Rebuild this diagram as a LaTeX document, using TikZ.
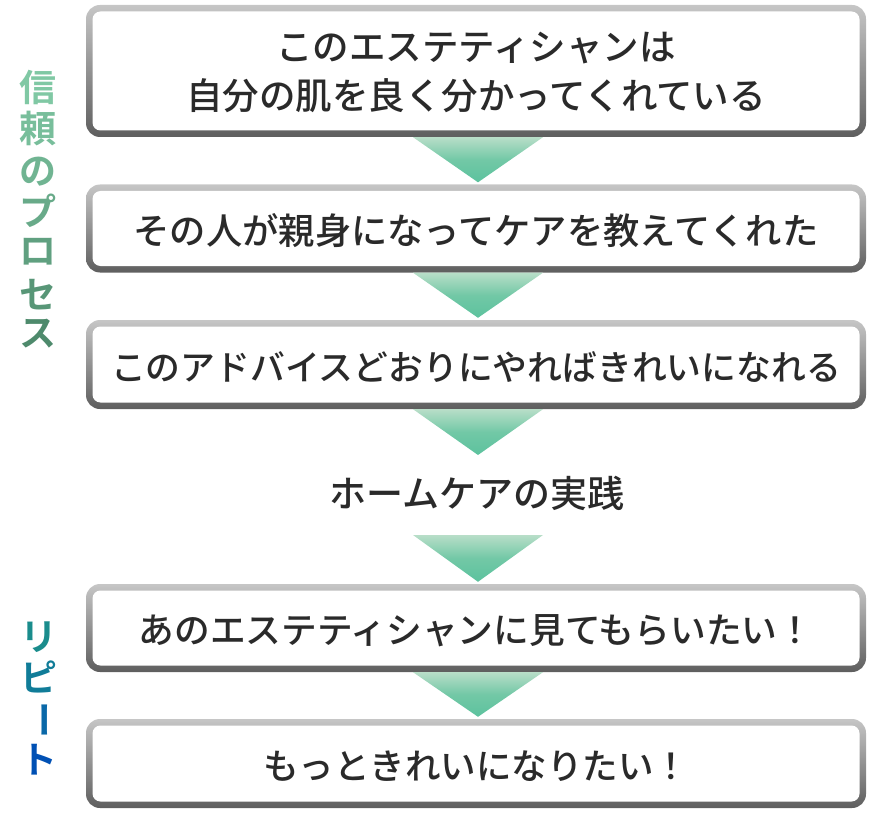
\documentclass[tikz,border=0pt]{standalone}
\usepackage{fontspec}
\setmainfont{Noto Sans CJK JP Medium}
\newfontfamily\jpbold{Noto Sans CJK JP Bold}
\usetikzlibrary{calc}
\definecolor{frametop}{HTML}{C6C6C6}
\definecolor{framebot}{HTML}{5E5E5E}
\definecolor{tritop}{HTML}{B8DEC8}
\definecolor{trimid}{HTML}{72C8A6}
\definecolor{tribot}{HTML}{5CC29E}
\definecolor{txt}{HTML}{2A2A2A}
\tikzset{
  boxouter/.style={shape=rectangle, rounded corners=14pt, inner sep=0pt,
    top color=frametop, bottom color=framebot, draw=none},
  boxinner/.style={shape=rectangle, rounded corners=8pt, inner sep=0pt,
    fill=white, text=txt, font=\fontsize{36}{49}\selectfont, align=center},
  boxtext/.style={text=txt, inner sep=0pt, align=center},
  tri/.style={top color=tritop, bottom color=tribot, middle color=trimid, draw=none},
  sidechar/.style={font=\jpbold\fontsize{37}{37}\selectfont, inner sep=0pt},
}
\begin{document}
\begin{tikzpicture}[x=1pt,y=-1pt]
\useasboundingbox (0,0) rectangle (875,829);
% boxes
\node[boxouter, minimum width=780pt, minimum height=132pt] (b1) at (476,71) {};
\node[boxinner, minimum width=767pt, minimum height=119pt] (i1) at (b1) {};
\node[boxtext, font=\fontsize{36.5}{49}\selectfont, yshift=-1pt] (t1) at (i1) {このエステティシャンは\\自分の肌を良く分かってくれている};
\node[boxouter, minimum width=780pt, minimum height=88pt] (b2) at (476,228.5) {};
\node[boxinner, minimum width=767pt, minimum height=75pt] (i2) at (b2) {};
\node[boxtext, font=\fontsize{36.3}{36}\selectfont, yshift=-2.5pt] (t2) at (i2) {その人が親身になってケアを教えてくれた};
\node[boxouter, minimum width=780pt, minimum height=89pt] (b3) at (476,364.5) {};
\node[boxinner, minimum width=767pt, minimum height=76pt] (i3) at (b3) {};
\node[boxtext, font=\fontsize{34.8}{36}\selectfont, yshift=-2.5pt] (t3) at (i3) {このアドバイスどおりにやればきれいになれる};
\node[text=txt, font=\fontsize{37}{37}\selectfont, inner sep=0pt] (hc) at (477,493) {ホームケアの実践};
\node[boxouter, minimum width=780pt, minimum height=88pt] (b4) at (476,628) {};
\node[boxinner, minimum width=767pt, minimum height=75pt] (i4) at (b4) {};
\node[boxtext, font=\fontsize{35.7}{36}\selectfont, yshift=-2.5pt] (t4) at (i4) {あのエステティシャンに見てもらいたい！};
\node[boxouter, minimum width=780pt, minimum height=89pt] (b5) at (476,763.5) {};
\node[boxinner, minimum width=767pt, minimum height=76pt] (i5) at (b5) {};
\node[boxtext, font=\fontsize{35.5}{36}\selectfont, yshift=-2.5pt] (t5) at (i5) {もっときれいになりたい！};
% arrows (triangles)
\coordinate (a3) at (478,455);
\coordinate (a4) at (478,535);
\shade[tri] ($(b1.south)+(-63,0)$) -- ($(b1.south)+(67,0)$) -- ($(b2.north)+(2,-2)$) -- cycle;
\shade[tri] ($(b2.south)+(-63,0)$) -- ($(b2.south)+(67,0)$) -- ($(b3.north)+(2,-2)$) -- cycle;
\shade[tri] ($(b3.south)+(-63,0)$) -- ($(b3.south)+(67,0)$) -- (a3) -- cycle;
\shade[tri] ($(a4)+(-65,0)$) -- ($(a4)+(65,0)$) -- ($(b4.north)+(2,-2)$) -- cycle;
\shade[tri] ($(b4.south)+(-63,0)$) -- ($(b4.south)+(67,0)$) -- ($(b5.north)+(2,-2)$) -- cycle;
% side labels
\node[sidechar, text={rgb,255:red,128;green,200;blue,164}] (s1) at (38,87) {信};
\node[sidechar, text={rgb,255:red,120;green,190;blue,155}] (s2) at (38,129) {頼};
\node[sidechar, text={rgb,255:red,112;green,180;blue,146}] (s3) at (38,172) {の};
\node[sidechar, text={rgb,255:red,104;green,170;blue,137}] (s4) at (38,211) {プ};
\node[sidechar, text={rgb,255:red,96;green,160;blue,128}] (s5) at (38,252) {ロ};
\node[sidechar, text={rgb,255:red,88;green,150;blue,119}] (s6) at (38,295) {セ};
\node[sidechar, text={rgb,255:red,78;green,138;blue,108}] (s7) at (38,334) {ス};
\node[sidechar, text={rgb,255:red,26;green,140;blue,140}] (r1) at (39,637) {リ};
\node[sidechar, text={rgb,255:red,16;green,124;blue,152}] (r2) at (39,677) {ピ};
\node[sidechar, text={rgb,255:red,10;green,104;blue,168}, rotate=-90] (r3) at (39,720) {ー};
\node[sidechar, text={rgb,255:red,0;green,80;blue,180}] (r4) at (39,760) {ト};
\end{tikzpicture}
\end{document}
